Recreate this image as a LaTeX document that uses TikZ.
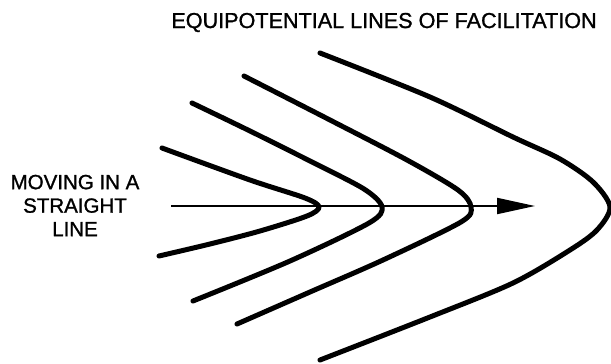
\documentclass[tikz,border=0pt]{standalone}
\usepackage{fontspec}
\setmainfont{Liberation Sans}
\newfontfamily\letterfont{Liberation Sans}[FakeBold=1.2]
\usepackage{tikz}
\usetikzlibrary{arrows.meta,positioning}

\begin{document}
\begin{tikzpicture}[x=1pt,y=-1pt,
    equiline/.style={line width=5pt, line cap=round, line join=round},
    lettering/.style={font=\letterfont\fontsize{20.5}{23.5}\selectfont, inner sep=0pt}]
    \useasboundingbox (0,0) rectangle (611,364);

    % Title and side label
    \node[lettering, font=\letterfont\fontsize{21.6}{24}\selectfont, anchor=base] (title) at (384,28) {EQUIPOTENTIAL LINES OF FACILITATION};
    \node[lettering, align=center] (moving) at (75,205.5) {MOVING IN A\\STRAIGHT\\LINE};

    % Direction of movement
    \coordinate (start) at (171,206);
    \coordinate (tip) at (535,206);
    \draw[line width=2pt, -{Triangle[length=38pt,width=16pt]}] (start) -- (tip);

    % Equipotential lines
    \draw[equiline] plot[smooth] coordinates {(162,148) (250,180) (305,198) (319,207) (307,216) (260,231) (210,244) (159,256)};
    \draw[equiline] plot[smooth] coordinates {(192,103) (250,131) (310,161) (364,189) (382,207) (369,223) (290,261) (193,301)};
    \draw[equiline] plot[smooth] coordinates {(244,76) (330,120) (407,160) (458,190) (471,207) (461,222) (383,260) (310,292) (237,324)};
    \draw[equiline] plot[smooth] coordinates {(320,53) (430,97) (513,137) (560,159) (593,182) (610,207) (597,230) (570,250) (513,283) (430,317) (320,360)};
\end{tikzpicture}
\end{document}
